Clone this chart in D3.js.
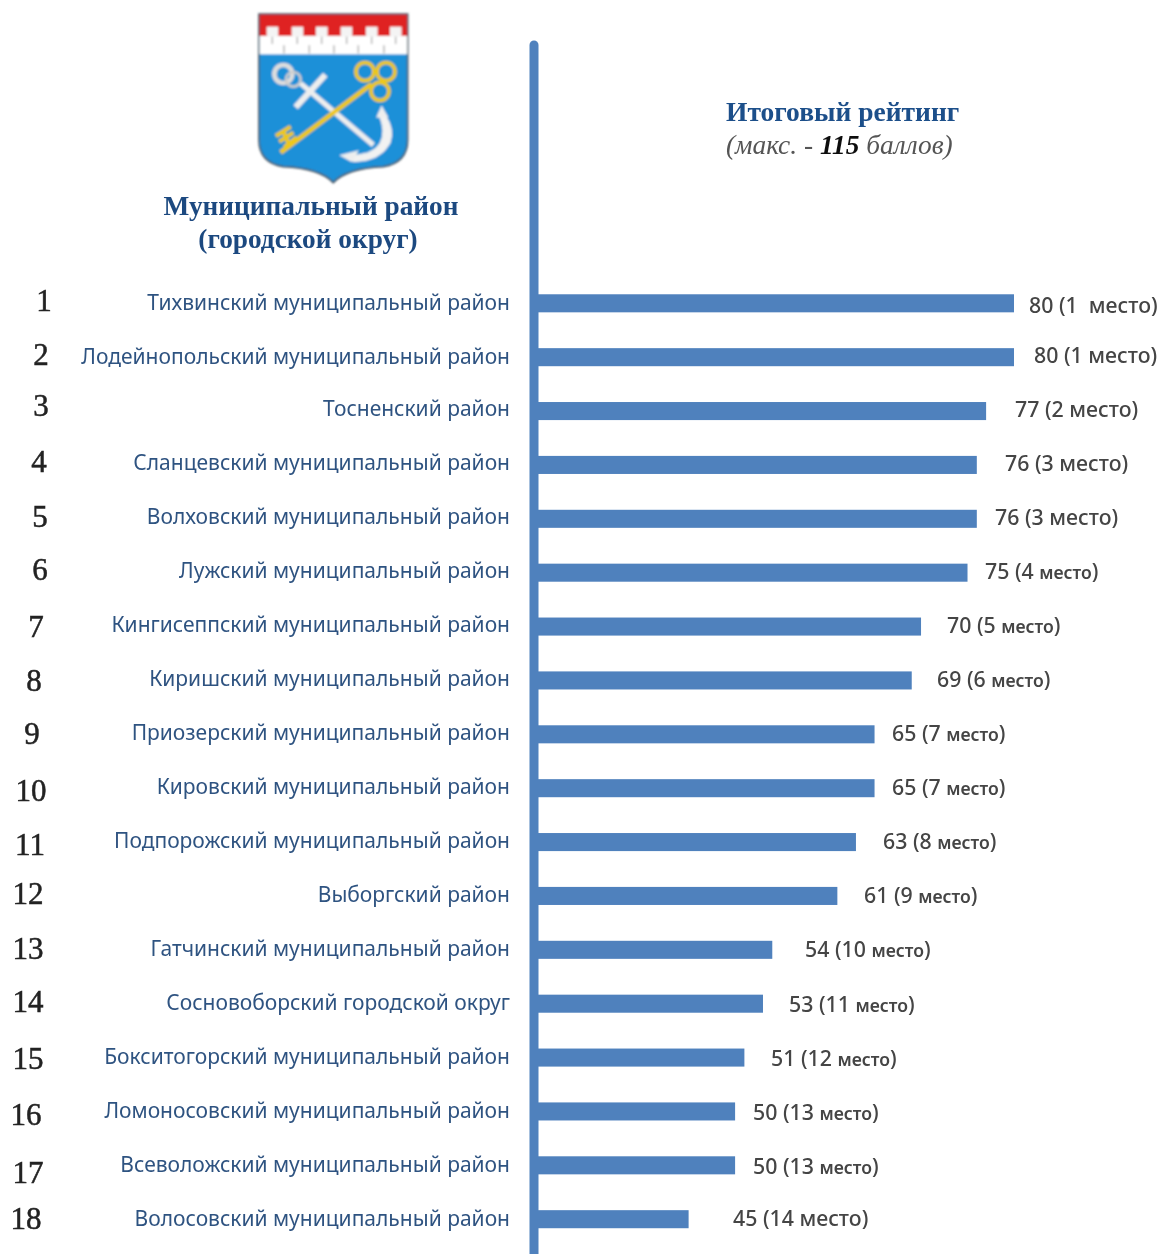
<!DOCTYPE html>
<html><head><meta charset="utf-8">
<script src="https://cdn.jsdelivr.net/npm/d3@7"></script>
<style>html,body{margin:0;padding:0;background:#fff;overflow:hidden}svg{display:block}text{white-space:pre}</style>
</head><body><svg id="c" width="1162" height="1254"></svg>
<script>
// data
const districts=["Тихвинский муниципальный район","Лодейнопольский муниципальный район","Тосненский район","Сланцевский муниципальный район","Волховский муниципальный район","Лужский муниципальный район","Кингисеппский муниципальный район","Киришский муниципальный район","Приозерский муниципальный район","Кировский муниципальный район","Подпорожский муниципальный район","Выборгский район","Гатчинский муниципальный район","Сосновоборский городской округ","Бокситогорский муниципальный район","Ломоносовский муниципальный район","Всеволожский муниципальный район","Волосовский муниципальный район"];
const scores=[80,80,77,76,76,75,70,69,65,65,63,61,54,53,51,50,50,45];
const places=[1,1,2,3,3,4,5,6,7,7,8,9,10,11,12,13,13,14];
const ranks=d3.range(1,19);
// layout of the hand-placed labels in the source picture
const rankX=[44,41,41,39,40,40,36,34,32,31,30,28,28,28,28,26,28,26];
const rankY=[301,355,406,462,517,570,627,681,734,791,845,894,949,1002,1059,1115,1173,1219];
const nameY=[303,357,409,463,517,571,625,679,733,787,841,895,949,1003,1057,1111,1165,1219];
const valX=[1029,1034,1015,1005,995,985,947,937,892,892,883,864,805,789,771,753,753,733];
const valY=[306,356,410,464,518,572,626,680,734,788,842,896,950,1005,1059,1113,1167,1219];
const smallWord=[0,0,0,0,0,1,1,1,1,1,1,1,1,1,1,1,1,0];

const svg=d3.select("#c");
const x=d3.scaleLinear().domain([28.8,80]).range([538,1014]);
const y=d3.scaleBand().domain(d3.range(18)).range([276.5,1246]).paddingInner(0.665).paddingOuter(0.33);
const blue="#4f81bd",sans="'Noto Sans',sans-serif",serif="'Liberation Serif',serif";
const defs=svg.append("defs");
defs.append("filter").attr("id","soft").append("feGaussianBlur").attr("stdDeviation",0.5);
defs.append("filter").attr("id","soft2").append("feGaussianBlur").attr("stdDeviation",2.4);

// emblem (drawn in a 3x grid)
const e=svg.append("g").attr("transform","scale(0.3333) translate(720,0)").attr("filter","url(#soft2)");
const shield="M57,42H503V420Q503,488 430,500Q320,505 280,548Q240,505 130,500Q57,488 57,420Z";
e.append("path").attr("d",shield).attr("fill","#1e90d8").attr("stroke","#4a5a66").attr("stroke-width",5);
e.append("rect").attr("x",59).attr("y",44).attr("width",442).attr("height",64).attr("fill","#df2020");
e.append("rect").attr("x",59).attr("y",108).attr("width",442).attr("height",55).attr("fill","#fff");
[80,155,228,302,378,450].forEach(m=>e.append("rect").attr("x",m).attr("y",80).attr("width",35).attr("height",30).attr("fill","#f4f4f4"));
const bricks=e.append("g").attr("stroke","#aaa").attr("stroke-width",4);
[97,172,245,320,395,467].forEach(m=>bricks.append("line").attr("x1",m).attr("x2",m).attr("y1",110).attr("y2",132));
[132,208,282,355,432].forEach(m=>bricks.append("line").attr("x1",m).attr("x2",m).attr("y1",136).attr("y2",160));
// anchor
const w=e.append("g").attr("fill","none").attr("stroke","#eee");
w.append("circle").attr("cx",130).attr("cy",222).attr("r",27).attr("stroke","#ddd").attr("stroke-width",14);
w.append("circle").attr("cx",160).attr("cy",238).attr("r",22).attr("stroke","#ccc").attr("stroke-width",8);
w.append("line").attr("x1",167).attr("y1",322).attr("x2",256).attr("y2",224).attr("stroke-width",18);
w.append("path").attr("d","M182,250L400,435").attr("stroke-width",15);
w.append("path").attr("d","M415,340Q440,395 420,430Q395,470 320,465L340,485Q420,485 450,430Q465,385 435,345Z").attr("fill","#f2f2f2").attr("stroke-width",3);
w.append("path").attr("d","M300,466L355,452L335,485Z").attr("fill","#eee").attr("stroke-width",2);
w.append("path").attr("d","M410,352L425,318L444,352Z").attr("fill","#eee").attr("stroke-width",2);
// key
const k=e.append("g").attr("fill","none").attr("stroke","#eec81a");
k.append("line").attr("x1",122).attr("y1",457).attr("x2",395).attr("y2",252).attr("stroke-width",14);
k.append("circle").attr("cx",375).attr("cy",215).attr("r",27).attr("stroke-width",11);
k.append("circle").attr("cx",438).attr("cy",215).attr("r",27).attr("stroke-width",11);
k.append("circle").attr("cx",420).attr("cy",274).attr("r",27).attr("stroke-width",11);
k.append("path").attr("d","M108,408L152,380M118,425L160,398M133,442L170,412M128,390L150,440").attr("stroke-width",12);

// headings
const head=svg.append("g").attr("filter","url(#soft)").attr("font-family",serif);
const h1=[["Муниципальный район",311,215],["(городской округ)",308,248]];
head.selectAll(".h1").data(h1).join("text").attr("class","h1").attr("x",d=>d[1]).attr("y",d=>d[2]).attr("text-anchor","middle").attr("font-size",27.3).attr("font-weight",700).attr("fill","#1f4a80").text(d=>d[0]);
head.append("text").attr("x",726).attr("y",121).attr("font-size",27.5).attr("font-weight",700).attr("fill","#1f4f8a").text("Итоговый рейтинг");
const sub=head.append("text").attr("x",726).attr("y",154).attr("font-size",27.4).attr("font-style","italic").attr("fill","#555");
sub.append("tspan").text("(макс. - ");
sub.append("tspan").attr("font-weight",700).attr("fill","#111").text("115");
sub.append("tspan").text(" баллов)");

// axis line
svg.append("line").attr("x1",534).attr("x2",534).attr("y1",45).attr("y2",1254).attr("stroke",blue).attr("stroke-width",9).attr("stroke-linecap","round");
// bars
svg.selectAll(".bar").data(scores).join("rect").attr("class","bar").attr("x",x.range()[0]).attr("y",(d,i)=>y(i)).attr("height",y.bandwidth()).attr("width",d=>x(d)-x.range()[0]).attr("fill",blue);

const t=svg.append("g").attr("filter","url(#soft)");
t.selectAll(".rk").data(ranks).join("text").attr("class","rk").attr("x",(d,i)=>rankX[i]).attr("y",(d,i)=>rankY[i]).attr("dy","0.33em").attr("text-anchor","middle").attr("font-family",serif).attr("font-size",31).attr("fill","#222").attr("stroke","#222").attr("stroke-width",0.5).text(d=>d);
t.selectAll(".nm").data(districts).join("text").attr("class","nm").attr("x",510).attr("y",(d,i)=>nameY[i]).attr("dy","0.35em").attr("text-anchor","end").attr("font-family",sans).attr("font-size",21).attr("fill","#2f5381").text(d=>d);
const v=t.selectAll(".vl").data(scores).join("text").attr("class","vl").attr("x",(d,i)=>valX[i]).attr("y",(d,i)=>valY[i]).attr("dy","0.35em").attr("font-family",sans).attr("font-size",21.3).attr("font-weight",500).attr("fill","#444");
v.append("tspan").text((d,i)=>`${d} (${places[i]}${i===0?"  ":" "}`);
v.append("tspan").attr("font-size",(d,i)=>smallWord[i]?17.6:21.3).attr("font-weight",(d,i)=>smallWord[i]?600:500).text("место");
v.append("tspan").text(")");
</script></body></html>
